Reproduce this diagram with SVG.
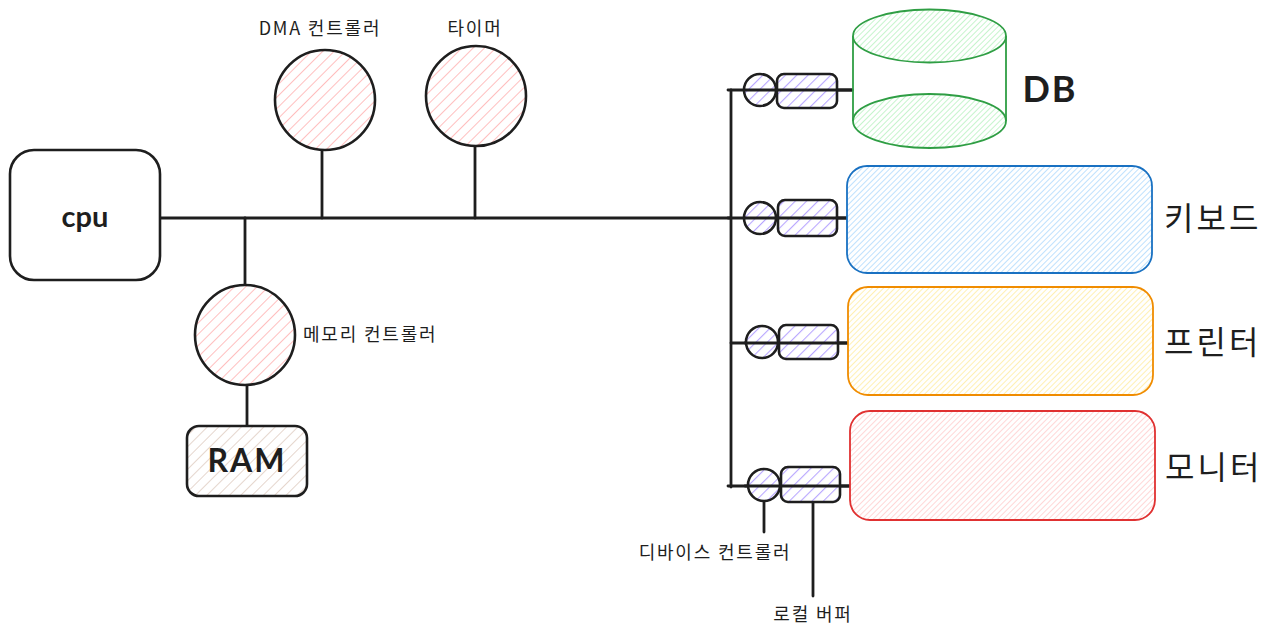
<svg xmlns="http://www.w3.org/2000/svg" width="1273" height="639" viewBox="0 0 1273 639">
<defs>
<pattern id="hPink" width="8" height="8" patternUnits="userSpaceOnUse" patternTransform="rotate(45)"><rect width="8" height="8" fill="#fff"/><line x1="0" y1="0" x2="0" y2="8" stroke="#ffbfbf" stroke-width="2"/></pattern>
<pattern id="hPurple" width="8" height="8" patternUnits="userSpaceOnUse" patternTransform="rotate(45)"><rect width="8" height="8" fill="#fff"/><line x1="0" y1="0" x2="0" y2="8" stroke="#b8a6ff" stroke-width="2.2"/></pattern>
<pattern id="hBrown" width="8" height="8" patternUnits="userSpaceOnUse" patternTransform="rotate(45)"><rect width="8" height="8" fill="#fff"/><line x1="0" y1="0" x2="0" y2="8" stroke="#e3d2c8" stroke-width="1.8"/></pattern>
<pattern id="hGreen" width="4" height="4" patternUnits="userSpaceOnUse" patternTransform="rotate(45)"><rect width="4" height="4" fill="#fff"/><line x1="0" y1="0" x2="0" y2="4" stroke="#a8eeb2" stroke-width="1.3"/></pattern>
<pattern id="hBlue" width="4" height="4" patternUnits="userSpaceOnUse" patternTransform="rotate(45)"><rect width="4" height="4" fill="#fff"/><line x1="0" y1="0" x2="0" y2="4" stroke="#9dd2fc" stroke-width="1.3"/></pattern>
<pattern id="hYellow" width="4" height="4" patternUnits="userSpaceOnUse" patternTransform="rotate(45)"><rect width="4" height="4" fill="#fff"/><line x1="0" y1="0" x2="0" y2="4" stroke="#ffe98a" stroke-width="1.3"/></pattern>
<pattern id="hRed" width="4" height="4" patternUnits="userSpaceOnUse" patternTransform="rotate(45)"><rect width="4" height="4" fill="#fff"/><line x1="0" y1="0" x2="0" y2="4" stroke="#ffc2c2" stroke-width="1.3"/></pattern>
</defs>
<style>
.k{stroke:#1e1e1e;stroke-width:2.6;}
.bus{stroke:#1e1e1e;stroke-width:2.8;fill:none;stroke-linecap:round;}
.lbl{font-family:"Noto Sans CJK KR","Noto Sans",sans-serif;font-size:18px;fill:#1e1e1e;letter-spacing:1.8px;}
.big{font-family:"Noto Sans CJK KR","Noto Sans",sans-serif;font-size:32px;fill:#1e1e1e;letter-spacing:3px;}
.hand{font-family:"Lato","Liberation Sans",sans-serif;font-weight:bold;fill:#1e1e1e;}
</style>
<rect width="1273" height="639" fill="#fff"/>

<g id="connectors">
<path class="bus" d="M160 218 H731"/>
<path class="bus" d="M245 218 V286"/>
<path class="bus" d="M247 385 V426"/>
<path class="bus" d="M322 150 V218"/>
<path class="bus" d="M475 146 V218"/>
<path class="bus" d="M731 90 V487"/>
<path class="bus" d="M728 90 H852"/>
<path class="bus" d="M728 218 H848"/>
<path class="bus" d="M731 343 H850"/>
<path class="bus" d="M728 486 H850"/>
<path class="bus" d="M764 500 V532" stroke-width="2.4"/>
<path class="bus" d="M813 502 V596" stroke-width="2.4"/>
</g>

<g id="cpu">
<rect x="10" y="150" width="150" height="130" rx="24" fill="#fff" class="k" stroke-width="1.6"/>
<text x="85" y="227" class="hand" font-size="29" text-anchor="middle">cpu</text>
</g>

<g id="memory-controller">
<circle cx="245" cy="335" r="50" fill="url(#hPink)" class="k"/>
<text x="303" y="341" class="lbl">메모리 컨트롤러</text>
</g>

<g id="ram">
<rect x="187" y="426" width="120" height="70" rx="12" fill="url(#hBrown)" class="k"/>
<text x="247" y="472" class="hand" font-size="32" text-anchor="middle" letter-spacing="2">RAM</text>
</g>

<g id="dma-controller">
<circle cx="325" cy="100" r="50" fill="url(#hPink)" class="k"/>
<text x="320" y="35" class="lbl" text-anchor="middle">DMA 컨트롤러</text>
</g>

<g id="timer">
<circle cx="476" cy="96" r="50" fill="url(#hPink)" class="k"/>
<text x="475" y="35" class="lbl" text-anchor="middle">타이머</text>
</g>

<g id="dev1">
<circle cx="760" cy="90" r="16" fill="url(#hPurple)" class="k"/>
<rect x="777" y="74" width="60" height="34" rx="7" fill="url(#hPurple)" class="k"/>
<path class="bus" d="M745 90 H852"/>
</g>
<g id="dev2">
<circle cx="760" cy="218" r="16" fill="url(#hPurple)" class="k"/>
<rect x="778" y="200" width="59" height="36" rx="7" fill="url(#hPurple)" class="k"/>
<path class="bus" d="M745 218 H848"/>
</g>
<g id="dev3">
<circle cx="762" cy="342" r="16" fill="url(#hPurple)" class="k"/>
<rect x="779" y="325" width="59" height="34" rx="7" fill="url(#hPurple)" class="k"/>
<path class="bus" d="M745 343 H850"/>
</g>
<g id="dev4">
<circle cx="764" cy="485" r="16" fill="url(#hPurple)" class="k"/>
<rect x="781" y="467" width="59" height="35" rx="7" fill="url(#hPurple)" class="k"/>
<path class="bus" d="M745 486 H850"/>
</g>

<g id="db">
<path d="M853 36 V121 M1006 36 V121" stroke="#2f9e44" stroke-width="1.8" fill="none"/>
<ellipse cx="929.5" cy="36" rx="76.5" ry="26.5" fill="url(#hGreen)" stroke="#2f9e44" stroke-width="1.8"/>
<ellipse cx="929.5" cy="121" rx="76.5" ry="27" fill="url(#hGreen)" stroke="#2f9e44" stroke-width="1.8"/>
<text x="1050" y="102" class="hand" font-size="36" text-anchor="middle" letter-spacing="2">DB</text>
</g>

<g id="keyboard">
<rect x="847" y="166" width="305" height="107" rx="20" fill="url(#hBlue)" stroke="#1971c2" stroke-width="1.8"/>
<text x="1164" y="230" class="big">키보드</text>
</g>
<g id="printer">
<rect x="848" y="287" width="305" height="108" rx="20" fill="url(#hYellow)" stroke="#f08c00" stroke-width="1.8"/>
<text x="1164" y="354" class="big">프린터</text>
</g>
<g id="monitor">
<rect x="850" y="411" width="305" height="109" rx="20" fill="url(#hRed)" stroke="#e03131" stroke-width="1.8"/>
<text x="1165" y="479" class="big">모니터</text>
</g>

<g id="labels">
<text x="715" y="559" class="lbl" text-anchor="middle">디바이스 컨트롤러</text>
<text x="813" y="621" class="lbl" text-anchor="middle">로컬 버퍼</text>
</g>
</svg>
